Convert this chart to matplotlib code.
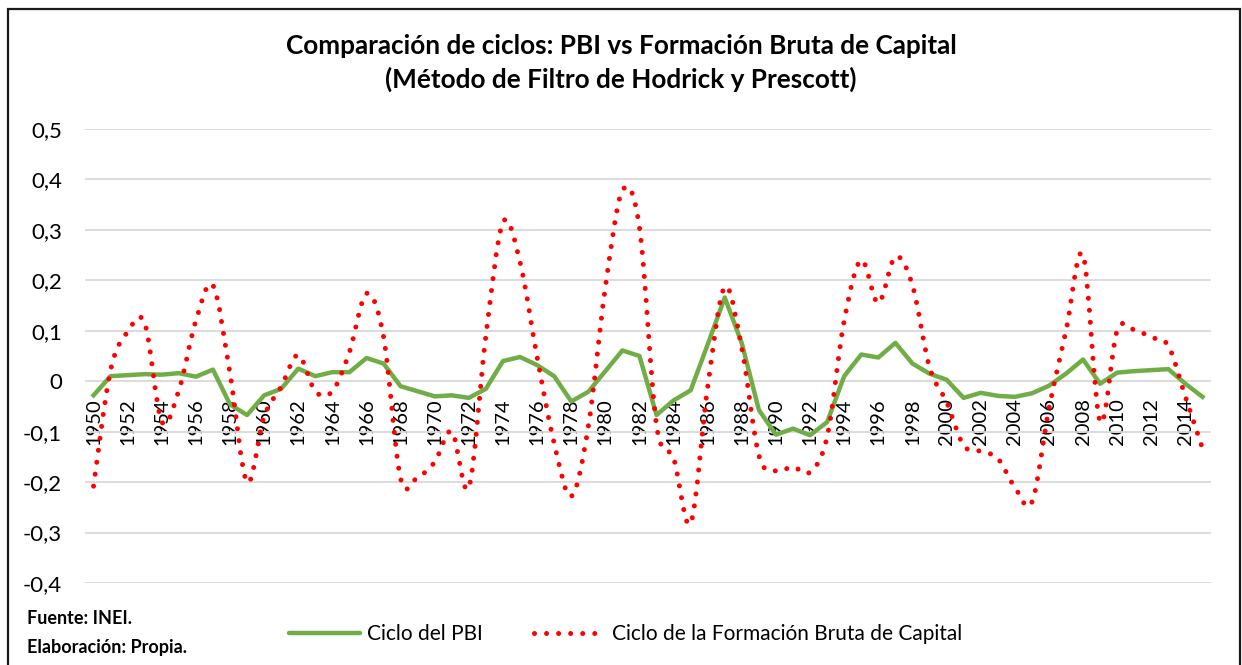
import matplotlib
matplotlib.use('Agg')
import matplotlib.pyplot as plt
import matplotlib.patches as mpatches
from matplotlib.path import Path
from matplotlib.lines import Line2D
import numpy as np

plt.rcParams['font.family'] = ['Lato', 'DejaVu Sans']

# datos
years = list(range(1950, 2016))
ciclo_pbi = [-0.028, 0.010, 0.012, 0.014, 0.013, 0.016, 0.009, 0.023, -0.046, -0.067,
             -0.028, -0.015, 0.025, 0.010, 0.018, 0.018, 0.046, 0.035, -0.010, -0.020,
             -0.030, -0.028, -0.033, -0.015, 0.040, 0.048, 0.032, 0.010, -0.040, -0.021,
             0.020, 0.061, 0.050, -0.067, -0.038, -0.018, 0.073, 0.166, 0.075, -0.057,
             -0.106, -0.094, -0.107, -0.081, 0.010, 0.053, 0.047, 0.076, 0.035, 0.015,
             0.003, -0.033, -0.023, -0.029, -0.031, -0.024, -0.009, 0.015, 0.043, -0.005,
             0.017, 0.020, 0.022, 0.024, -0.005, -0.031]
ciclo_fbk = [-0.208, 0.022, 0.098, 0.115, -0.080, -0.018, 0.120, 0.190, 0.015, -0.200,
             -0.070, -0.011, 0.052, -0.020, -0.020, 0.058, 0.174, 0.088, -0.193, -0.190,
             -0.160, -0.100, -0.210, 0.091, 0.315, 0.236, 0.048, -0.123, -0.228, -0.090,
             0.186, 0.378, 0.305, -0.087, -0.153, -0.281, -0.011, 0.187, 0.065, -0.147,
             -0.178, -0.170, -0.180, -0.110, 0.120, 0.240, 0.155, 0.247, 0.190, 0.028,
             -0.041, -0.127, -0.139, -0.153, -0.210, -0.240, -0.055, 0.100, 0.250, -0.080,
             0.100, 0.102, 0.087, 0.070, -0.031, -0.133]
yticks = [-0.4, -0.3, -0.2, -0.1, 0, 0.1, 0.2, 0.3, 0.4, 0.5]

titulo = 'Comparación de ciclos: PBI vs Formación Bruta de Capital\n(Método de Filtro de Hodrick y Prescott)'
verde = '#70AD47'
rojo = '#FF0000'


def smooth_path(x, y):
    # curva suavizada tipo Excel (bezier con tangentes catmull-rom)
    pts = np.column_stack([x, y]).astype(float)
    n = len(pts)
    verts = [pts[0]]
    codes = [Path.MOVETO]
    for i in range(n - 1):
        p0 = pts[i - 1] if i > 0 else pts[i]
        p1 = pts[i]
        p2 = pts[i + 1]
        p3 = pts[i + 2] if i + 2 < n else pts[i + 1]
        c1 = p1 + (p2 - p0) / 6.0
        c2 = p2 - (p3 - p1) / 6.0
        verts += [c1, c2, p2]
        codes += [Path.CURVE4] * 3
    return Path(verts, codes)


fig = plt.figure(figsize=(12.42, 6.65), dpi=100)
ax = fig.add_axes([85 / 1242, 1 - 583 / 665, (1211 - 85) / 1242, (583 - 129) / 665])

idx = np.arange(len(years))
ax.plot(idx, ciclo_pbi, color=verde, lw=3.2, solid_joinstyle='round', zorder=3)

dot_style = (0, (0.01, 2.4))
red_patch = mpatches.PathPatch(smooth_path(idx, ciclo_fbk), fill=False, edgecolor=rojo,
                               lw=3.6, linestyle=dot_style, capstyle='round', zorder=4)
ax.add_patch(red_patch)

# el eje de categorias cruza en 0
ax.spines['bottom'].set_position(('data', 0))
for s in ['top', 'right', 'left', 'bottom']:
    ax.spines[s].set_visible(False)

ax.set_xlim(-0.5, len(years) - 0.5)
ax.set_ylim(-0.4, 0.5)
ax.set_yticks(yticks)
ax.set_yticklabels(['0' if v == 0 else ('%.1f' % v).replace('.', ',') for v in yticks],
                   fontsize=16)
ax.tick_params(axis='y', length=0, pad=16.5)
ax.yaxis.grid(True, color='#d9d9d9', lw=1.3)
ax.set_axisbelow(True)

ax.set_xticks(idx[::2])
ax.set_xticklabels([str(y) for y in years[::2]], rotation=90, fontsize=14.5)
ax.tick_params(axis='x', length=0, pad=12)

fig.text(0.5, 1 - 63 / 665, titulo, ha='center', va='center', fontsize=18.8,
         fontweight='bold', linespacing=1.4)

fig.text(27 / 1242, 1 - 619 / 665, 'Fuente: INEI.', fontsize=13, fontweight='bold',
         va='center')
fig.text(27 / 1242, 1 - 648 / 665, 'Elaboración: Propia.', fontsize=13, fontweight='bold',
         va='center')

handles = [Line2D([], [], color=verde, lw=3.2, solid_capstyle='round'),
           Line2D([], [], color=rojo, lw=3.6, linestyle=dot_style, dash_capstyle='round')]
fig.legend(handles, ['Ciclo del PBI', 'Ciclo de la Formación Bruta de Capital'],
           loc='center', bbox_to_anchor=(626 / 1242, 1 - 634 / 665), ncol=2,
           frameon=False, fontsize=15, handlelength=3.4, columnspacing=2.45,
           handletextpad=0.35)

# borde del area del grafico (el borde inferior queda fuera de la imagen)
fig.patches.append(mpatches.Rectangle((7.5 / 1242, -0.02), (1240 - 7.5) / 1242, 1 - 8.5 / 665 + 0.02,
                                      transform=fig.transFigure, fill=False,
                                      edgecolor='#1a1a1a', lw=1.6))

fig.savefig('out.png', dpi=100)
